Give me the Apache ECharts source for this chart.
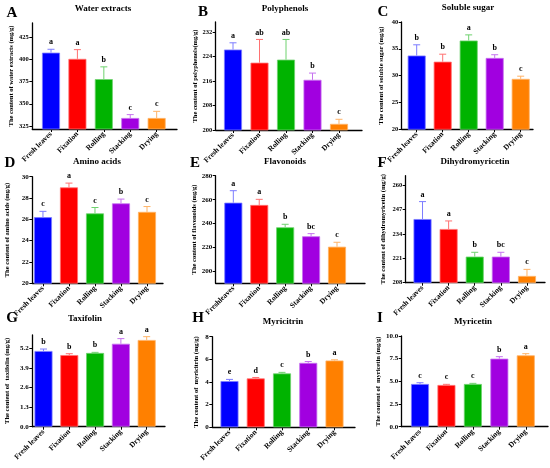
<!DOCTYPE html>
<html>
<head>
<meta charset="utf-8">
<script src="https://cdn.jsdelivr.net/npm/echarts@6/dist/echarts.min.js"></script>
<style>
  html, body { margin: 0; padding: 0; background: #fff; }
  #chart { width: 550px; height: 468px; }
</style>
</head>
<body>
<div id="chart"></div>
<script>
// stages of processing
const stages = ["Fresh leaves", "Fixation", "Rolling", "Stacking", "Drying"];
const stagesE = ["Freshleaves", "Fixation", "Rolling", "Stacking", "Drying"];

// mean values, upper error (sd) and significance letters per panel
const waterExtracts = [407.6, 400.6, 377.8, 334.0, 334.0];
const waterErr = [3.8, 10.4, 13.8, 3.8, 7.5];
const waterLetters = ["a", "a", "b", "c", "c"];

const polyphenols = [226.3, 222.0, 223.0, 216.4, 202.0];
const polyErr = [2.2, 7.6, 6.6, 2.2, 1.5];
const polyLetters = ["a", "ab", "ab", "b", "c"];

const solubleSugar = [33.75, 32.6, 36.55, 33.3, 29.4];
const sugarErr = [2.0, 1.4, 1.05, 0.6, 0.5];
const sugarLetters = ["b", "b", "a", "b", "c"];

const aminoAcids = [26.2, 29.0, 26.56, 27.5, 26.7];
const aminoErr = [0.55, 0.4, 0.55, 0.4, 0.5];
const aminoLetters = ["c", "a", "c", "b", "c"];

const flavonoids = [257.5, 255.6, 237.0, 229.5, 220.8];
const flavErr = [10.0, 4.7, 2.5, 2.2, 3.7];
const flavLetters = ["a", "a", "b", "bc", "c"];

const dihydromyricetin = [241.9, 236.6, 221.9, 221.9, 211.6];
const dmyErr = [9.3, 4.3, 2.3, 2.3, 3.5];
const dmyLetters = ["a", "a", "b", "bc", "c"];

const taxifolin = [5.02, 4.75, 4.89, 5.5, 5.75];
const taxErr = [0.13, 0.09, 0.04, 0.34, 0.22];
const taxLetters = ["b", "b", "b", "a", "a"];

const myricitrin = [4.08, 4.32, 4.76, 5.69, 5.9];
const mytErr = [0.15, 0.08, 0.09, 0.12, 0.06];
const mytLetters = ["e", "d", "c", "b", "a"];

const myricetin = [4.71, 4.6, 4.71, 7.5, 7.87];
const myrErr = [0.14, 0.07, 0.07, 0.22, 0.18];
const myrLetters = ["c", "c", "c", "b", "a"];

const barColors = ["#0000FF", "#FF0000", "#00B300", "#A100E0", "#FF8000"];
const errColors = ["#7C7CFF", "#FF7272", "#6FD26F", "#C672F0", "#FFB366"];

const FONT = "'Liberation Serif', 'Times New Roman', serif";

const panels = [
  { tag: "A", title: "Water extracts", tx: 103, ty: 9, lx: 12, ly: 13,
    grid: [32.3, 23, 144.7, 106], x: [-0.708, 4.77], y: [321.6, 441],
    ticks: [325, 350, 375, 400, 425], dec: 0, fs: 6.5,
    yName: "The content of water extracts (mg/g)", gap: 12,
    cats: stages, vals: waterExtracts, err: waterErr, letters: waterLetters },
  { tag: "B", title: "Polyphenols", tx: 285, ty: 9, lx: 203, ly: 12,
    grid: [215.7, 22, 146.3, 108], x: [-0.653, 4.868], y: [200, 235.3],
    ticks: [200, 208, 216, 224, 232], dec: 0, fs: 6.5,
    yName: "The content of polyphenols(mg/g)", gap: 17,
    cats: stages, vals: polyphenols, err: polyErr, letters: polyLetters },
  { tag: "C", title: "Soluble sugar", tx: 468, ty: 8, lx: 383, ly: 12,
    grid: [401.7, 22, 131.3, 107.3], x: [-0.577, 4.473], y: [20, 40],
    ticks: [20, 25, 30, 35, 40], dec: 0, fs: 6.5,
    yName: "The content of soluble sugar (mg/g)", gap: 17,
    cats: stages, vals: solubleSugar, err: sugarErr, letters: sugarLetters },
  { tag: "D", title: "Amino acids", tx: 97, ty: 162, lx: 10, ly: 163,
    grid: [32.3, 176.7, 130.7, 106.6], x: [-0.41, 4.615], y: [20, 30],
    ticks: [20, 22, 24, 26, 28, 30], dec: 0, fs: 7,
    yName: "The content of amino acids (mg/g)", gap: 21.5,
    cats: stages, vals: aminoAcids, err: aminoErr, letters: aminoLetters },
  { tag: "E", title: "Flavonoids", tx: 285, ty: 162, lx: 195, ly: 163,
    grid: [215.7, 175.7, 149.3, 107.6], x: [-0.68, 5.08], y: [190.3, 280],
    ticks: [200, 220, 240, 260, 280], dec: 0, fs: 7,
    yName: "The content of flavonoids (mg/g)", gap: 17,
    cats: stagesE, vals: flavonoids, err: flavErr, letters: flavLetters },
  { tag: "F", title: "Dihydromyricetin", tx: 475, ty: 162, lx: 382, ly: 163,
    grid: [405.7, 175.7, 139.3, 107], x: [-0.644, 4.69], y: [208, 265],
    ticks: [208, 221, 234, 247, 260], dec: 0, fs: 6.5,
    yName: "The content of dihydromyricetin (mg/g)", gap: 19,
    cats: stages, vals: dihydromyricetin, err: dmyErr, letters: dmyLetters },
  { tag: "G", title: "Taxifolin", tx: 85, ty: 319, lx: 12, ly: 318,
    grid: [32.3, 335, 132.7, 91.7], x: [-0.434, 4.71], y: [0, 6.08],
    ticks: [0, 1.3, 2.6, 3.9, 5.2], dec: 1, fs: 7,
    yName: "The content of  taxifolin (mg/g)", gap: 21.5,
    cats: stages, vals: taxifolin, err: taxErr, letters: taxLetters },
  { tag: "H", title: "Myricitrin", tx: 283, ty: 322, lx: 198, ly: 318,
    grid: [212.3, 336.7, 142.7, 90.6], x: [-0.655, 4.78], y: [0, 8],
    ticks: [0, 2, 4, 6, 8], dec: 0, fs: 7,
    yName: "The content of  myricitrin (mg/g)", gap: 12,
    cats: stages, vals: myricitrin, err: mytErr, letters: mytLetters },
  { tag: "I", title: "Myricetin", tx: 473, ty: 322, lx: 380, ly: 318,
    grid: [401.7, 336, 146.3, 90.7], x: [-0.692, 4.84], y: [0, 10],
    ticks: [0, 2.5, 5, 7.5, 10], dec: 1, fs: 7,
    yName: "The content of  myricetin (mg/g)", gap: 18,
    cats: stages, vals: myricetin, err: myrErr, letters: myrLetters },
];

function errorRenderer(letters) {
  return function (params, api) {
    const i = api.value(0);
    const p0 = api.coord([i, api.value(1)]);
    const p1 = api.coord([i, api.value(2)]);
    const c = errColors[i];
    return {
      type: "group",
      children: [
        { type: "line", shape: { x1: p0[0], y1: p0[1], x2: p1[0], y2: p1[1] },
          style: { stroke: c, lineWidth: 1 } },
        { type: "line", shape: { x1: p1[0] - 3.5, y1: p1[1], x2: p1[0] + 3.5, y2: p1[1] },
          style: { stroke: c, lineWidth: 1 } },
        { type: "text", style: { text: letters[i], x: p1[0], y: p1[1] - 3,
          align: "center", verticalAlign: "bottom", fill: "#000",
          font: "bold 8px " + FONT } },
      ],
    };
  };
}

const grids = [], xAxes = [], yAxes = [], series = [], graphics = [];

panels.forEach((p, k) => {
  grids.push({ left: p.grid[0], top: p.grid[1], width: p.grid[2], height: p.grid[3],
    outerBoundsMode: "none" });

  xAxes.push({
    type: "value", gridIndex: k, min: p.x[0], max: p.x[1],
    splitLine: { show: false },
    axisLine: { show: true, onZero: false, lineStyle: { color: "#000", width: 1.3 } },
    axisTick: { show: true, length: 3, customValues: [0, 1, 2, 3, 4],
      lineStyle: { color: "#000", width: 1 } },
    axisLabel: { customValues: [0, 1, 2, 3, 4], rotate: 45, margin: 4,
      formatter: (v) => p.cats[Math.round(v)],
      color: "#000", fontFamily: FONT, fontWeight: "bold", fontSize: 7.5 },
  });

  yAxes.push({
    type: "value", gridIndex: k, min: p.y[0], max: p.y[1],
    splitLine: { show: false },
    axisLine: { show: true, onZero: false, lineStyle: { color: "#000", width: 1.3 } },
    axisTick: { show: true, length: 3, customValues: p.ticks,
      lineStyle: { color: "#000", width: 1 } },
    axisLabel: { customValues: p.ticks, margin: 3.5,
      formatter: (v) => v.toFixed(p.dec),
      color: "#000", fontFamily: FONT, fontWeight: "bold", fontSize: p.fs },
    name: p.yName, nameLocation: "middle", nameRotate: 90, nameGap: p.gap,
    nameTextStyle: { color: "#000", fontFamily: FONT, fontWeight: "bold", fontSize: 6.5 },
  });

  series.push({
    type: "bar", xAxisIndex: k, yAxisIndex: k, barWidth: 18,
    data: p.vals.map((v, i) => ({
      value: [i, v],
      itemStyle: { color: barColors[i], borderColor: errColors[i], borderWidth: 0.8 },
    })),
    silent: true,
  });

  series.push({
    type: "custom", xAxisIndex: k, yAxisIndex: k, clip: false, z: 3,
    renderItem: errorRenderer(p.letters),
    data: p.vals.map((v, i) => [i, v, v + p.err[i]]),
    silent: true,
  });

  graphics.push({
    type: "text", x: p.tx, y: p.ty,
    style: { text: p.title, align: "center", verticalAlign: "middle", fill: "#000",
      font: "bold 9px " + FONT },
  });
  graphics.push({
    type: "text", x: p.lx, y: p.ly,
    style: { text: p.tag, align: "center", verticalAlign: "middle", fill: "#000",
      font: "bold 15px " + FONT },
  });
});

const chart = echarts.init(document.getElementById("chart"), null, { renderer: "canvas" });
chart.setOption({
  animation: false,
  grid: grids,
  xAxis: xAxes,
  yAxis: yAxes,
  series: series,
  graphic: graphics,
});
</script>
</body>
</html>
